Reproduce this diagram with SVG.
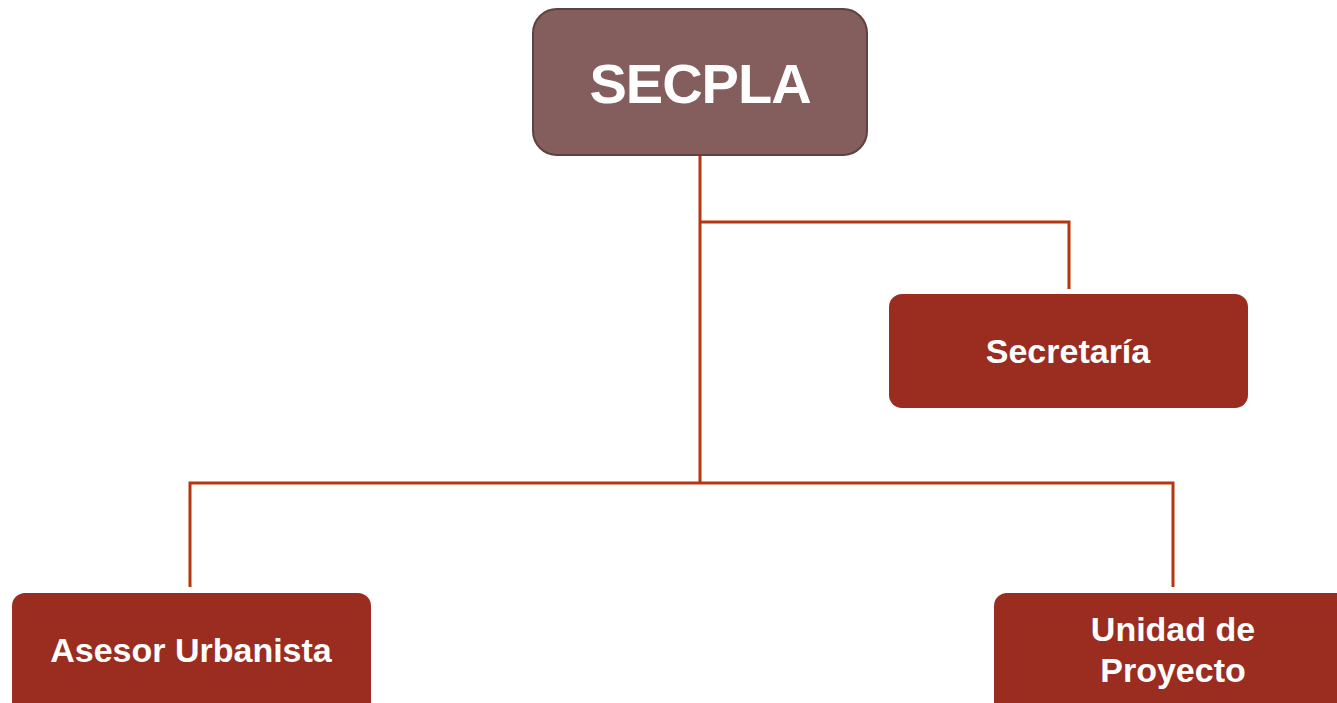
<svg xmlns="http://www.w3.org/2000/svg" width="1337" height="703" viewBox="0 0 1337 703">
<style>
.box{fill:#9A2D20;}
.lbl{fill:#FFFFFF;font-family:"Liberation Sans",Arial,sans-serif;font-weight:bold;font-size:34px;text-anchor:middle;}
.con{fill:none;stroke:#B5360F;stroke-width:3;}
</style>
<rect width="1337" height="703" fill="#FFFFFF"/>
<g id="connectors">
<path class="con" d="M700,155 V483"/>
<path class="con" d="M700,222 H1069 V289"/>
<path class="con" d="M190,587 V483 H1173 V587"/>
</g>
<g id="secpla">
<rect x="533" y="9" width="334" height="146" rx="24" fill="#845E5C" stroke="#5E4240" stroke-width="2"/>
<text x="700" y="103" class="lbl" style="font-size:56px;letter-spacing:-1px">SECPLA</text>
</g>
<g id="secretaria">
<rect class="box" x="889" y="294" width="359" height="114" rx="13"/>
<text x="1068" y="363" class="lbl">Secretaría</text>
</g>
<g id="asesor">
<rect class="box" x="12" y="593" width="359" height="125" rx="13"/>
<text x="191" y="662" class="lbl">Asesor Urbanista</text>
</g>
<g id="unidad">
<rect class="box" x="994" y="593" width="359" height="125" rx="13"/>
<text x="1173" y="641" class="lbl">Unidad de</text>
<text x="1173" y="682" class="lbl">Proyecto</text>
</g>
</svg>
